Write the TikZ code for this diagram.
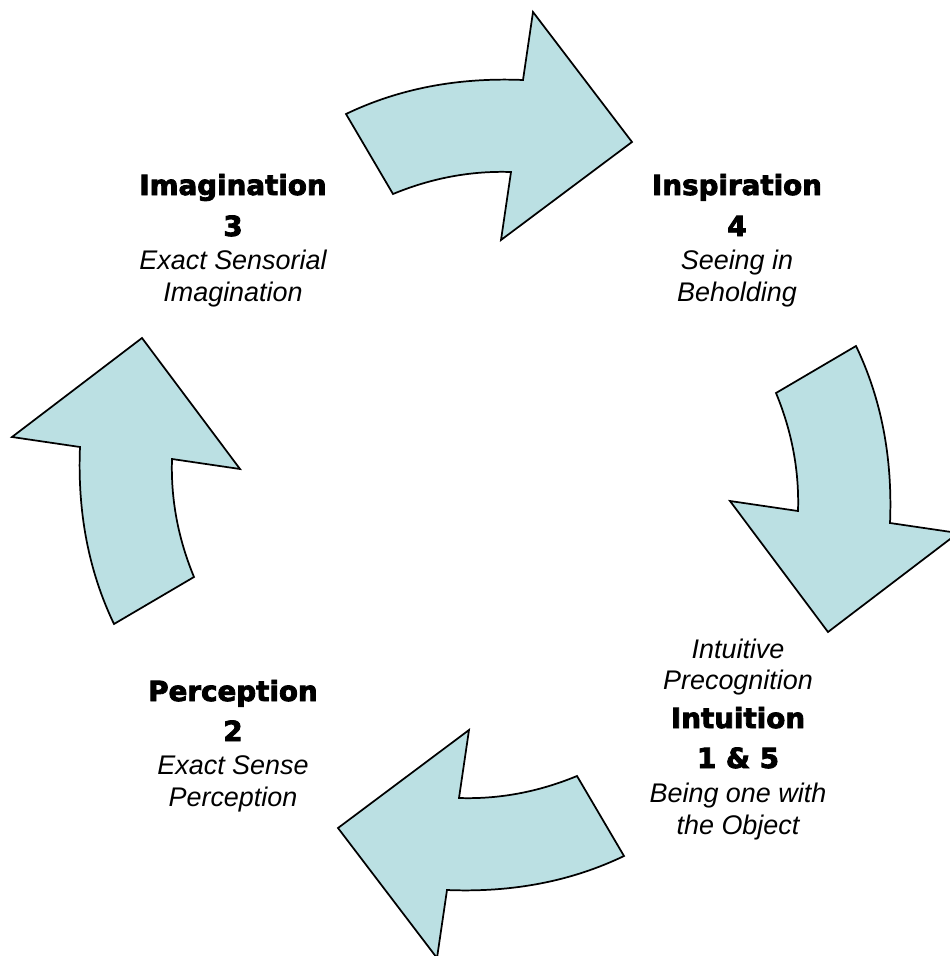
\documentclass[tikz,border=0pt]{standalone}
\usepackage{fontspec}
\setmainfont{Liberation Sans}
\newfontfamily\headfont[FakeBold=3]{DejaVu Sans Bold}
\begin{document}
\definecolor{arrowfill}{RGB}{187,224,227}
\tikzset{
  x=0.75pt, y=-0.75pt,
  cyclearrow/.style={fill=arrowfill, draw=black, line width=1.3pt, line join=miter},
  headline/.style={anchor=base, inner sep=0pt, font=\headfont\fontsize{20.8}{25}\selectfont},
  subline/.style={anchor=base, inner sep=0pt, font=\itshape\fontsize{20.2}{24}\selectfont},
  bentarrow/.pic={
    \path[cyclearrow] (-139,-371) .. controls (-86.3,-396.3) and (-27.3,-407.7) .. (38,-405)
      -- (48,-473) -- (147,-343) -- (16,-245) -- (26,-313)
      .. controls (-14,-314.3) and (-53.3,-307) .. (-92,-291) -- cycle;
  }
}
\begin{tikzpicture}
  \useasboundingbox (0,0) rectangle (949,956);
  \coordinate (hub) at (485,485);

  % four curved arrows turning clockwise round the hub
  \pic[rotate=0]   at (hub) {bentarrow};
  \pic[rotate=-90] at (hub) {bentarrow};
  \pic[rotate=180] at (hub) {bentarrow};
  \pic[rotate=90]  at (hub) {bentarrow};

  % Imagination
  \node[headline] (imag)   at (233,195) {Imagination};
  \node[headline] (imagn)  at (233,236) {3};
  \node[subline]  (imags1) at (233,269) {Exact Sensorial};
  \node[subline]  (imags2) at (233,301) {Imagination};

  % Inspiration
  \node[headline] (insp)   at (737,195) {Inspiration};
  \node[headline] (inspn)  at (737,236) {4};
  \node[subline]  (insps1) at (737,269) {Seeing in};
  \node[subline]  (insps2) at (737,301) {Beholding};

  % Perception
  \node[headline] (perc)   at (233,701) {Perception};
  \node[headline] (percn)  at (233,741) {2};
  \node[subline]  (percs1) at (233,774) {Exact Sense};
  \node[subline]  (percs2) at (233,806) {Perception};

  % Intuition
  \node[subline]  (intup1) at (738,658) {Intuitive};
  \node[subline]  (intup2) at (738,689) {Precognition};
  \node[headline] (intu)   at (738,728) {Intuition};
  \node[headline] (intun)  at (738,768) {1 \& 5};
  \node[subline]  (intus1) at (738,802) {Being one with};
  \node[subline]  (intus2) at (738,834) {the Object};
\end{tikzpicture}
\end{document}
